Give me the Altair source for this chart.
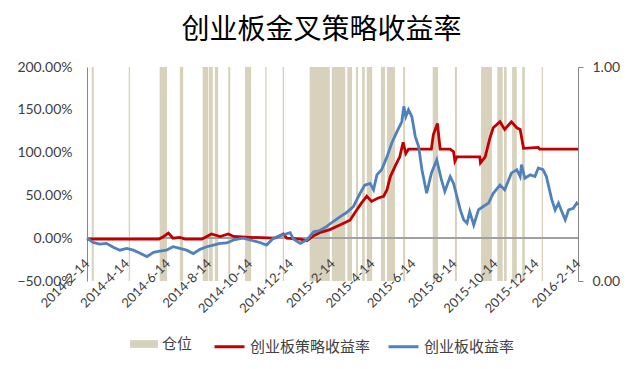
import altair as alt
import pandas as pd

TITLE = "创业板金叉策略收益率"
POS_NAME = "仓位"
STRAT_NAME = "创业板策略收益率"
INDEX_NAME = "创业板收益率"

# position (仓位 = 1) intervals
pos_start = ["2014-02-21","2014-04-17","2014-06-02","2014-07-02","2014-08-05","2014-08-14","2014-08-23",
             "2014-09-12","2014-10-07","2014-11-06","2014-12-02","2015-01-11","2015-02-13","2015-03-08",
             "2015-03-21","2015-03-30","2015-04-06","2015-04-27","2015-05-06","2015-05-30","2015-07-13",
             "2015-08-15","2015-09-23","2015-10-17","2015-10-27","2015-11-08","2015-11-23","2015-12-22"]
pos_end = ["2014-02-24","2014-04-19","2014-06-13","2014-07-07","2014-08-13","2014-08-20","2014-08-28",
           "2014-09-15","2014-10-16","2014-11-08","2014-12-04","2015-02-10","2015-03-05","2015-03-15",
           "2015-03-24","2015-04-03","2015-04-14","2015-05-03","2015-05-18","2015-06-02","2015-07-21",
           "2015-08-18","2015-10-09","2015-10-25","2015-10-31","2015-11-15","2015-11-27","2015-12-24"]
pos_level = [1] * len(pos_start)

# strategy return (%)
red_dates = ["2014-02-14","2014-06-01","2014-06-08","2014-06-15","2014-06-22","2014-07-02","2014-07-10",
             "2014-08-04","2014-08-18","2014-08-31","2014-09-12","2014-09-20","2014-10-15","2014-11-20",
             "2014-12-03","2014-12-08","2014-12-28","2015-01-07","2015-01-17","2015-01-26","2015-02-10",
             "2015-02-25","2015-03-12","2015-03-22","2015-03-29","2015-04-06","2015-04-13","2015-04-23",
             "2015-05-01","2015-05-06","2015-05-11","2015-05-18","2015-05-25","2015-05-30","2015-06-03",
             "2015-06-07","2015-07-11","2015-07-14","2015-07-20","2015-07-24","2015-08-08","2015-08-13",
             "2015-08-15","2015-08-18","2015-09-21","2015-09-22","2015-09-29","2015-10-06","2015-10-11",
             "2015-10-21","2015-10-28","2015-11-07","2015-11-15","2015-11-20","2015-11-25","2015-12-17",
             "2015-12-19","2016-02-14"]
red_vals = [-1,-1,2,6,0,1,-1,-1,5,2,5,2,1,0,5,0,-1,-3,3,6.5,10,15.5,21,33,41,49,43,47,49,56.5,
            72,84,95,112,99,104,104,121,134,104,104,101,90,95,95,88,95,117,129,136,127,136,129,127,
            105,106,104,104]

# ChiNext index return (%)
blue_dates = ["2014-02-14","2014-02-23","2014-03-05","2014-03-15","2014-03-25","2014-04-04","2014-04-14",
              "2014-04-24","2014-05-04","2014-05-14","2014-05-24","2014-06-02","2014-06-12","2014-06-22",
              "2014-07-02","2014-07-12","2014-07-22","2014-08-01","2014-08-11","2014-08-21","2014-08-31",
              "2014-09-10","2014-09-20","2014-10-04","2014-10-19","2014-10-29","2014-11-08","2014-11-18",
              "2014-12-03","2014-12-13","2014-12-18","2014-12-28","2015-01-07","2015-01-17","2015-01-26",
              "2015-02-05","2015-02-15","2015-02-25","2015-03-07","2015-03-17","2015-03-27","2015-04-03",
              "2015-04-11","2015-04-16","2015-04-21","2015-04-28","2015-05-06","2015-05-13","2015-05-20",
              "2015-05-28","2015-05-31","2015-06-03","2015-06-07","2015-06-12","2015-06-17","2015-06-22",
              "2015-06-27","2015-07-04","2015-07-11","2015-07-19","2015-07-26","2015-07-31","2015-08-08",
              "2015-08-13","2015-08-23","2015-08-28","2015-09-02","2015-09-06","2015-09-12","2015-09-19",
              "2015-09-26","2015-10-04","2015-10-11","2015-10-21","2015-10-28","2015-11-07","2015-11-15",
              "2015-11-20","2015-11-22","2015-11-27","2015-12-05","2015-12-12","2015-12-17","2015-12-24",
              "2015-12-29","2016-01-06","2016-01-11","2016-01-16","2016-01-21","2016-01-26","2016-01-31",
              "2016-02-07","2016-02-12","2016-02-14"]
blue_vals = [0,-5,-7,-6,-10.5,-14,-12,-14,-17.5,-21.5,-16.5,-15,-14,-10,-12,-14,-18,-13,-10,-8,
             -6,-5.5,-2,0,-3,-5,-8,0,4,6.5,-1,-6,-2,7.5,9,13.5,19.5,25,30,37,
             52.5,62,64,56.5,74,80,95,111,123,136,154,142,150,142,119,107,80,52.5,76,91.5,
             68,54.5,72,64,33,21.5,17.5,31,15.5,33,37,41,52.5,62,56.5,76,80,72,86,70,
             74,72,82,80,72,45,33,41,31,21.5,33,35,41,39]

x_ticks = ["2014-02-14","2014-04-14","2014-06-14","2014-08-14","2014-10-14","2014-12-14",
           "2015-02-14","2015-04-14","2015-06-14","2015-08-14","2015-10-14","2015-12-14","2016-02-14"]
left_ticks = [-0.5, 0, 0.5, 1.0, 1.5, 2.0]
right_ticks = [0, 1]

TAN = "#D8D2BC"
RED = "#C00000"
BLUE = "#4F81BD"
GREY_TXT = "#404040"
AXIS_GREY = "#888888"
NUM_FONT = "Lato"
CJK_FONT = "Noto Sans CJK SC"

pos_df = pd.DataFrame({"start": pos_start, "end": pos_end, "level": pos_level, "series": POS_NAME})
red_df = pd.DataFrame({"date": red_dates, "value": [v / 100 for v in red_vals], "series": STRAT_NAME})
blue_df = pd.DataFrame({"date": blue_dates, "value": [v / 100 for v in blue_vals], "series": INDEX_NAME})


def dt(s):
    y, m, d = (int(p) for p in s.split("-"))
    return alt.DateTime(year=y, month=m, date=d, utc=True)


x_scale = alt.Scale(type="utc", domain=[dt(x_ticks[0]), dt(x_ticks[-1])])
x_axis = alt.Axis(values=[dt(t) for t in x_ticks],
                  labelExpr="utcFormat(datum.value, '%Y-%-m-%-d')",
                  labelAngle=-45, labelAlign="right", labelBaseline="middle", labelFontSize=13,
                  labelFont=NUM_FONT, labelColor=GREY_TXT, domain=False, ticks=False, grid=False,
                  labelPadding=0, offset=-20, title=None, labelOverlap=False, labelBound=False,
                  labelFlush=False, zindex=1)
left_scale = alt.Scale(domain=[-0.5, 2.0], nice=False, zero=False)

stroke_scale = alt.Scale(domain=[STRAT_NAME, INDEX_NAME], range=[RED, BLUE])
stroke_legend = alt.Legend(orient="none", legendX=126, legendY=263, direction="horizontal", title=None,
                           symbolType="stroke", symbolSize=900, symbolStrokeWidth=3, labelOffset=4,
                           columnPadding=11, labelFont=CJK_FONT, labelFontSize=15, labelColor=GREY_TXT)

bars = alt.Chart(pos_df).mark_rect(strokeWidth=0).encode(
    x=alt.X("start:T", scale=x_scale, axis=x_axis),
    x2="end:T",
    y=alt.Y("level:Q", scale=alt.Scale(domain=[0, 1], nice=False),
            axis=alt.Axis(orient="right", values=right_ticks, format=".2f", title=None, grid=False,
                          domainColor=AXIS_GREY, tickColor=AXIS_GREY, tickSize=5, labelPadding=9,
                          labelFont=NUM_FONT, labelFontSize=14, labelColor=GREY_TXT)),
    y2=alt.datum(0),
    fill=alt.Fill("series:N", scale=alt.Scale(domain=[POS_NAME], range=[TAN]),
                  legend=alt.Legend(orient="none", legendX=43, legendY=263, title=None,
                                    symbolType="M-1,-0.28L1,-0.28L1,0.28L-1,0.28Z", symbolSize=784,
                                    symbolStrokeWidth=0, labelOffset=4, labelFont=CJK_FONT,
                                    labelFontSize=15, labelColor=GREY_TXT)),
)

zero_rule = alt.Chart(red_df).mark_rule(color="#A0A0A0", strokeWidth=1).encode(
    y=alt.Y(datum=0, scale=left_scale, axis=None),
)

red_line = alt.Chart(red_df).mark_line(strokeWidth=2.8, interpolate="linear").encode(
    x=alt.X("date:T", scale=x_scale, axis=x_axis),
    y=alt.Y("value:Q", scale=left_scale,
            axis=alt.Axis(orient="left", values=left_ticks, format=".2%", title=None, grid=False,
                          domainColor=AXIS_GREY, ticks=False, labelPadding=15,
                          labelFont=NUM_FONT, labelFontSize=14, labelColor=GREY_TXT)),
    stroke=alt.Stroke("series:N", scale=stroke_scale, legend=stroke_legend),
)

blue_line = alt.Chart(blue_df).mark_line(strokeWidth=2.8, interpolate="linear").encode(
    x=alt.X("date:T", scale=x_scale, axis=x_axis),
    y=alt.Y("value:Q", scale=left_scale, axis=None),
    stroke=alt.Stroke("series:N", scale=stroke_scale, legend=stroke_legend),
)

chart = alt.layer(bars, zero_rule, red_line, blue_line).resolve_scale(
    y="independent"
).properties(
    width=491,
    height=214,
    padding={"left": 79, "top": 59, "right": 54, "bottom": 80},
    autosize=alt.AutoSizeParams(type="none"),
    title=alt.TitleParams(TITLE, font=CJK_FONT, fontSize=28, fontWeight="normal", color="#000000",
                          anchor="middle", frame="group", dx=-11, offset=15),
).configure_view(stroke=None)

chart.save("out.html", embed_options={"renderer": "svg", "actions": False})
